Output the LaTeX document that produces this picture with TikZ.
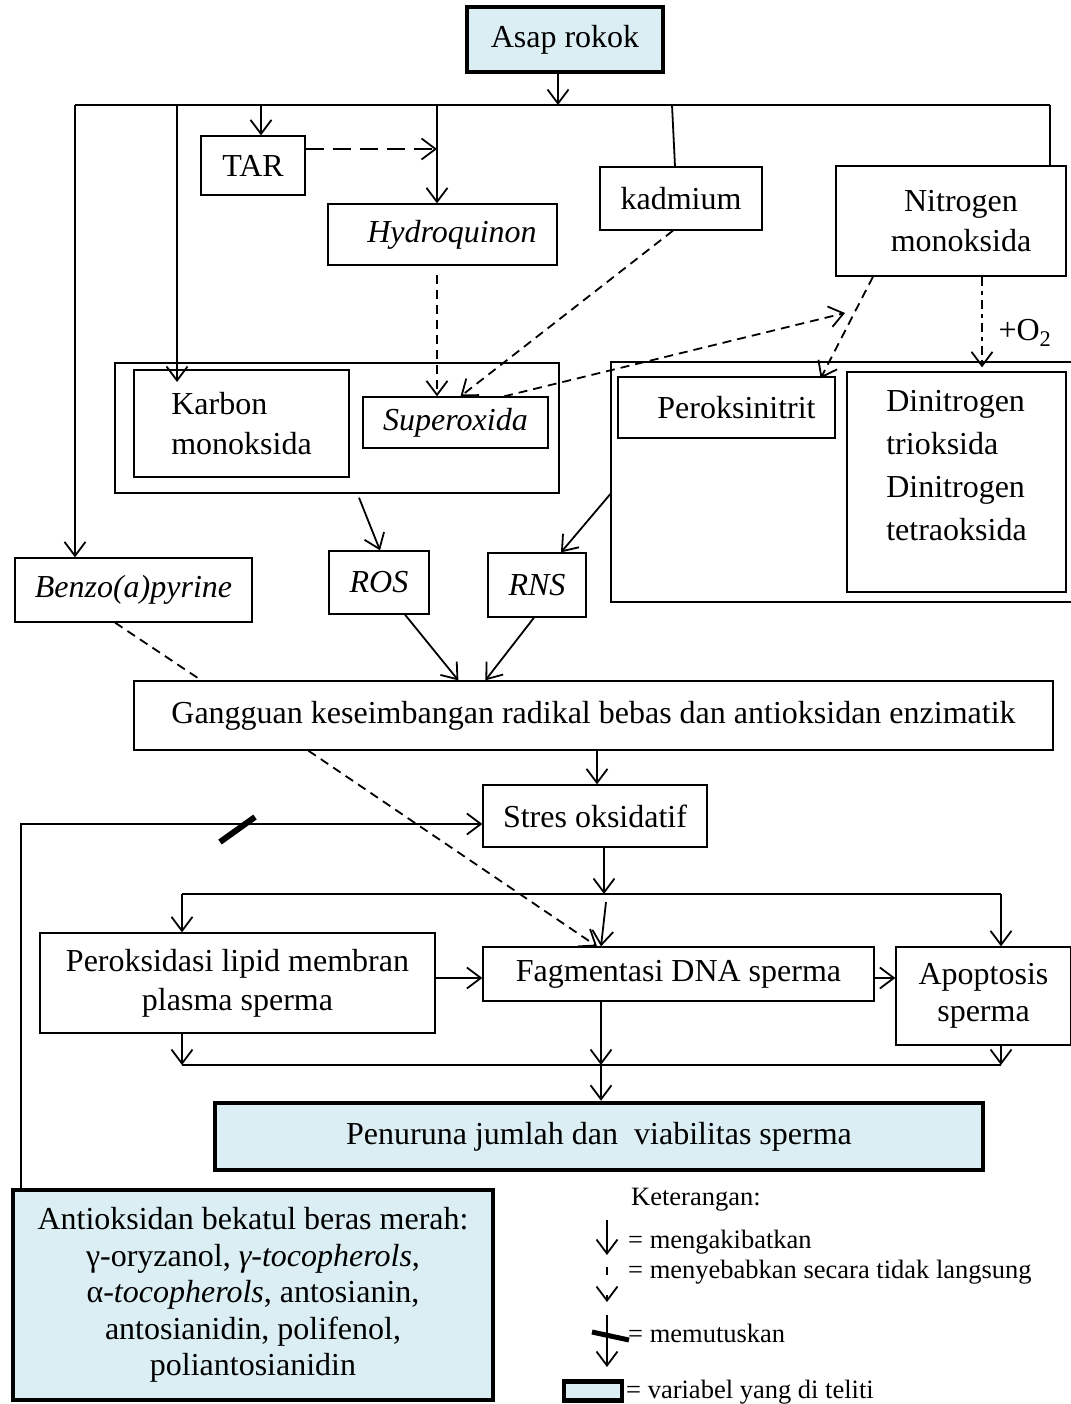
\documentclass[tikz,border=0pt]{standalone}
\usepackage{fontspec}
\setmainfont{Liberation Serif}
\usepackage{xcolor}
\usepackage{tikz}
\usetikzlibrary{arrows.meta}
\definecolor{varfill}{HTML}{DAEEF3}
\newcommand{\mainsz}{\fontsize{32}{40}\selectfont}
\newcommand{\notesz}{\fontsize{26.5}{30}\selectfont}
\tikzset{
  box/.style={draw, line width=1.3pt, inner sep=0pt, align=center, font=\mainsz},
  varbox/.style={box, line width=4.5pt, fill=varfill},
  grpbox/.style={draw, line width=1.3pt, inner sep=0pt},
  txt/.style={inner sep=0pt, font=\mainsz},
  note/.style={inner sep=0pt, anchor=west, font=\notesz},
  conn/.style={line width=1.8pt},
  arr/.style={conn, -{Straight Barb[length=14pt,width=21pt]}},
  darr/.style={arr, dash pattern=on 9pt off 6pt},
  darrl/.style={arr, dash pattern=on 18pt off 9pt},
  ddarr/.style={arr, dash pattern=on 9pt off 5pt on 4pt off 5pt},
  dline/.style={conn, dash pattern=on 9pt off 6pt},
  breakbar/.style={line width=6pt},
}

\begin{document}
\begin{tikzpicture}[x=1pt,y=-1pt]
  \useasboundingbox (0,0) rectangle (1070,1404);

  \node[varbox, minimum width=196pt, minimum height=65pt] (asap) at (565,39.5) {Asap rokok};
  \node[box, minimum width=104pt, minimum height=59pt] (tar) at (253,165.5) {TAR};
  \node[box, minimum width=229pt, minimum height=61pt] (hydro) at (442.5,234.5) {\hspace*{19pt}\textit{Hydroquinon}};
  \node[box, minimum width=162pt, minimum height=63pt] (kadmium) at (681,198.5) {kadmium};
  \node[box, minimum width=230pt, minimum height=110pt] (nitro) at (951,221) {\hspace*{20pt}Nitrogen\\\hspace*{20pt}monoksida};

  \node[grpbox, minimum width=444pt, minimum height=130pt] (cobox) at (337,428) {};
  \node[box, minimum width=215pt, minimum height=107pt, align=left] (karbon) at (241.5,423.5) {Karbon\\monoksida};
  \node[box, minimum width=185pt, minimum height=51pt] (superox) at (455.5,422.5) {\textit{Superoxida}};
  \node[grpbox, minimum width=461pt, minimum height=240pt] (rnsgrp) at (841.5,482) {};
  \node[box, minimum width=217pt, minimum height=61pt] (perok) at (726.5,407.5) {\hspace*{20pt}Peroksinitrit};
  \node[box, minimum width=219pt, minimum height=220pt] (dinitro) at (956.5,482) {};
  \node[txt, align=left, font=\fontsize{32}{43}\selectfont] (dinitrotxt) at (956.5,466) {Dinitrogen\\trioksida\\Dinitrogen\\tetraoksida};
  \node[txt] (oxy) at (1025,333) {+O\textsubscript{2}};

  \node[box, minimum width=237pt, minimum height=64pt] (benzo) at (133.5,590) {\textit{Benzo(a)pyrine}};
  \node[box, minimum width=100pt, minimum height=63pt] (ros) at (379,582.5) {\textit{ROS}};
  \node[box, minimum width=98pt, minimum height=64pt] (rns) at (537,585) {\textit{RNS}};
  \node[box, minimum width=919pt, minimum height=69pt] (gangguan) at (593.5,715.5) {Gangguan keseimbangan radikal bebas dan antioksidan enzimatik};
  \node[box, minimum width=224pt, minimum height=62pt] (stres) at (595,816) {Stres oksidatif};
  \node[box, minimum width=395pt, minimum height=100pt, font=\fontsize{32}{39}\selectfont] (perokl) at (237.5,983) {Peroksidasi lipid membran\\plasma sperma};
  \node[box, minimum width=391pt, minimum height=54pt] (fagmen) at (678.5,974) {Fagmentasi DNA sperma};
  \node[box, minimum width=175pt, minimum height=98pt, font=\fontsize{32}{37}\selectfont] (apop) at (983.5,996) {Apoptosis\\sperma};
  \node[varbox, minimum width=768pt, minimum height=67pt] (penurun) at (599,1136.5) {Penuruna jumlah dan\ \ viabilitas sperma};
  \node[varbox, minimum width=480pt, minimum height=210pt, font=\fontsize{32}{36.5}\selectfont] (antiok) at (253,1295) {Antioksidan bekatul beras merah:\\γ-oryzanol, \textit{γ-tocopherols},\\α-\textit{tocopherols}, antosianin,\\antosianidin, polifenol,\\poliantosianidin};

  \coordinate (topL) at (75,105);
  \coordinate (topR) at (1050,105);
  \coordinate (topA) at (558,105);
  \coordinate (topC) at (177,105);
  \coordinate (topT) at (261,105);
  \coordinate (topH) at (437,105);
  \coordinate (topK) at (672,105);
  \coordinate (cotip) at (177,382);
  \coordinate (tarmid) at (437,149);
  \coordinate (hydout) at (437,275);
  \coordinate (ntip) at (845,313);

  \draw[arr] ([xshift=-7pt]asap.south) -- (topA);
  \draw[conn] (topL) -- (topR);
  \draw[arr] (topL) -- (topL |- benzo.north);
  \draw[arr] (topC) -- (cotip);
  \draw[arr] (topT) -- (topT |- tar.north);
  \draw[arr] (topH) -- (topH |- hydro.north);
  \draw[darrl] ([yshift=16.5pt]tar.east) -- (tarmid);
  \draw[conn] (topK) -- ([xshift=-6pt]kadmium.north);
  \draw[conn] (topR) -- (topR |- nitro.north);

  \draw[darr] (hydout) -- (hydout |- superox.north);
  \draw[darr] ([xshift=-8pt]kadmium.south) -- ([xshift=5pt]superox.north);
  \draw[darr] ([xshift=48.5pt]superox.north) -- (ntip);
  \draw[darr] ([xshift=-78pt]nitro.south) -- ([xshift=-15pt,yshift=-2pt]perok.north east);
  \draw[ddarr] ([xshift=31pt]nitro.south) -- ([xshift=25.5pt,yshift=4pt]dinitro.north);

  \draw[arr] ([xshift=22pt,yshift=-4pt]cobox.south) -- ([xshift=1pt]ros.north);
  \draw[arr] ([yshift=-12pt]rnsgrp.west) -- ([xshift=24pt]rns.north);
  \draw[dline] ([xshift=-18.5pt]benzo.south) -- ([xshift=68pt]gangguan.north west);
  \draw[arr] ([xshift=26pt]ros.south) -- ([xshift=325pt]gangguan.north west);
  \draw[arr] ([xshift=-3pt]rns.south) -- ([xshift=352pt]gangguan.north west);

  \draw[arr] ([xshift=3.5pt]gangguan.south) -- ([xshift=2pt]stres.north);
  \draw[darr] ([xshift=175pt]gangguan.south west) -- ([xshift=-81.5pt]fagmen.north);
  \draw[arr] ([xshift=10pt]antiok.north west) |- ([yshift=-8pt]stres.west);
  \coordinate (cutA) at (220,842);
  \coordinate (cutB) at (255,817);
  \draw[breakbar] (cutA) -- (cutB);

  \coordinate (midL) at (182,894);
  \coordinate (midR) at (1001,894);
  \coordinate (midC) at (604,894);
  \coordinate (midD) at (606,902);
  \draw[arr] ([xshift=9pt]stres.south) -- (midC);
  \draw[conn] (midL) -- (midR);
  \draw[arr] (midL) -- (midL |- perokl.north);
  \draw[arr] (midR) -- (midR |- apop.north);
  \draw[arr] (midD) -- ([xshift=-77.5pt]fagmen.north);
  \draw[arr] ([yshift=5pt]perokl.east) -- ([yshift=-4pt]fagmen.west);
  \draw[arr] ([yshift=-4pt]fagmen.east) -- ([yshift=18pt]apop.west);

  \coordinate (lowL) at (182,1065);
  \coordinate (lowR) at (1001,1065);
  \coordinate (lowC) at (601,1065);
  \draw[arr] (lowL |- perokl.south) -- (lowL);
  \draw[arr] (lowC |- fagmen.south) -- (lowC);
  \draw[arr] (lowR |- apop.south) -- (lowR);
  \draw[conn] (lowL) -- (lowR);
  \draw[arr] (lowC) -- (lowC |- penurun.north);

  \node[note] (ket) at (631,1200) {Keterangan:};
  \coordinate (lg1a) at (607,1220);
  \coordinate (lg1b) at (607,1255);
  \draw[arr] (lg1a) -- (lg1b);
  \node[note] (lg1t) at (628,1242) {= mengakibatkan};
  \coordinate (lg2a) at (607,1267);
  \coordinate (lg2b) at (607,1302);
  \draw[arr, dash pattern=on 8pt off 20pt] (lg2a) -- (lg2b);
  \node[note] (lg2t) at (628,1272) {= menyebabkan secara tidak langsung};
  \coordinate (lg3a) at (607,1315);
  \coordinate (lg3b) at (607,1367);
  \draw[arr] (lg3a) -- (lg3b);
  \coordinate (lgcA) at (592,1332);
  \coordinate (lgcB) at (629,1340);
  \draw[breakbar, line width=5pt] (lgcA) -- (lgcB);
  \node[note] (lg3t) at (628,1333) {= memutuskan};
  \node[varbox, minimum width=58pt, minimum height=19pt] (lgbox) at (593,1391) {};
  \node[note] (lg4t) at (626,1392) {= variabel yang di teliti};
\end{tikzpicture}
\end{document}
